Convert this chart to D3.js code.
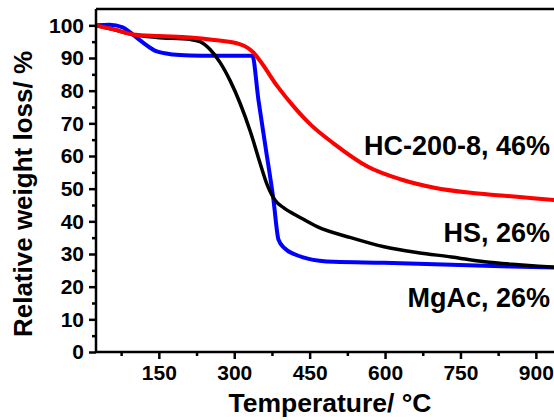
<!DOCTYPE html>
<html>
<head>
<meta charset="utf-8">
<script src="https://cdn.jsdelivr.net/npm/d3@7"></script>
<style>
  html, body { margin: 0; padding: 0; background: #ffffff; }
  svg { display: block; font-family: "Liberation Sans", Arial, sans-serif; }
</style>
</head>
<body>
<svg id="chart" width="554" height="420"></svg>
<script>
// TGA curves: temperature (°C) vs. relative weight (%)
const hcTemp = [25, 60, 98, 150, 212, 260, 312, 338, 352, 386, 418, 452, 498, 566, 632, 698, 766, 832, 900, 950];
const hcWeight = [100, 98.8, 97.2, 96.7, 96.3, 95.5, 94.2, 91.7, 89, 81.3, 75.2, 69.6, 63.8, 56.7, 52.8, 50.3, 48.8, 47.9, 47, 46.3];

const hsTemp = [25, 60, 98, 146, 212, 232, 252, 272, 292, 312, 332, 352, 366, 382, 398, 432, 466, 532, 598, 666, 732, 798, 866, 932, 950];
const hsWeight = [100, 98.7, 97.2, 96.3, 95.7, 95, 92.6, 88.6, 83, 76, 67.5, 57.5, 51, 46.3, 44.2, 41.1, 38.3, 35, 32.2, 30.4, 29.1, 27.6, 26.7, 26, 25.8];

const mgTemp = [25, 52, 78, 98, 118, 146, 178, 212, 260, 336, 348, 362, 378, 388, 400, 420, 446, 498, 598, 732, 850, 950];
const mgWeight = [100, 100.2, 99.4, 97.2, 94.8, 92, 91.1, 90.8, 90.7, 90.7, 77.3, 63, 46.6, 34.4, 31.8, 29.9, 28.6, 27.6, 27.3, 26.7, 26.2, 25.8];

const seriesNames = ["MgAc, 26%", "HS, 26%", "HC-200-8, 46%"];
const seriesColors = ["#0000ff", "#000000", "#ff0000"];

const xMajorTicks = [150, 300, 450, 600, 750, 900];
const xMinorTicks = [75, 225, 375, 525, 675, 825];
const yMajorTicks = [0, 10, 20, 30, 40, 50, 60, 70, 80, 90, 100];
const yMinorTicks = [5, 15, 25, 35, 45, 55, 65, 75, 85, 95];

const svg = d3.select("#chart");
const plotLeft = 96, plotRight = 561, plotTop = 9, plotBottom = 352;

const x = d3.scaleLinear().domain([25, 950]).range([plotLeft, plotRight]);
const y = d3.scaleLinear().domain([0, 105]).range([plotBottom, plotTop]);

// clip so the lines stay inside the frame
svg.append("defs").append("clipPath").attr("id", "plot")
  .append("rect").attr("x", plotLeft).attr("y", plotTop)
  .attr("width", plotRight - plotLeft).attr("height", plotBottom - plotTop);

const line = d3.line()
  .x(d => x(d[0]))
  .y(d => y(d[1]))
  .curve(d3.curveMonotoneX);

const series = [
  { temp: mgTemp, weight: mgWeight, width: 4 },
  { temp: hsTemp, weight: hsWeight, width: 3.5 },
  { temp: hcTemp, weight: hcWeight, width: 4 }
];

const plot = svg.append("g").attr("clip-path", "url(#plot)");
series.forEach((s, i) => {
  const pts = s.temp.map((t, j) => [t, s.weight[j]]);
  plot.append("path")
    .datum(pts)
    .attr("fill", "none")
    .attr("stroke", seriesColors[i])
    .attr("stroke-width", s.width)
    .attr("stroke-linejoin", "round")
    .attr("d", line);
});

// frame top line
svg.append("line")
  .attr("x1", plotLeft).attr("x2", plotRight + 2)
  .attr("y1", plotTop).attr("y2", plotTop)
  .attr("stroke", "#000").attr("stroke-width", 2.5);

// bottom axis
const xAxis = svg.append("g").attr("transform", `translate(0,${plotBottom})`)
  .call(d3.axisBottom(x).tickValues(xMajorTicks).tickSize(7).tickPadding(6).tickFormat(d3.format("d")));
svg.append("g").attr("transform", `translate(0,${plotBottom})`)
  .call(d3.axisBottom(x).tickValues(xMinorTicks).tickSize(4).tickFormat(""))
  .call(g => g.select(".domain").remove());

// left axis
const yAxis = svg.append("g").attr("transform", `translate(${plotLeft},0)`)
  .call(d3.axisLeft(y).tickValues(yMajorTicks).tickSize(7).tickPadding(5).tickFormat(d3.format("d")));
svg.append("g").attr("transform", `translate(${plotLeft},0)`)
  .call(d3.axisLeft(y).tickValues(yMinorTicks).tickSize(4).tickFormat(""))
  .call(g => g.select(".domain").remove());

svg.selectAll(".domain").attr("stroke", "#000").attr("stroke-width", 2.5);
svg.selectAll(".tick line").attr("stroke", "#000").attr("stroke-width", 2.5);
svg.selectAll(".tick text")
  .attr("fill", "#000")
  .style("font-size", "21px")
  .style("font-weight", "bold")
  .style("font-family", "'Liberation Sans', Arial, sans-serif");
xAxis.selectAll(".domain").attr("d", `M${plotLeft},0H${plotRight + 2}`);
yAxis.selectAll(".domain").attr("d", `M0,${plotBottom}V${plotTop}`);

// axis titles
svg.append("text")
  .attr("x", 330).attr("y", 412)
  .attr("text-anchor", "middle")
  .style("font-size", "26.5px").style("font-weight", "bold")
  .text("Temperature/ °C");

svg.append("text")
  .attr("transform", "translate(32,194) rotate(-90)")
  .attr("text-anchor", "middle")
  .style("font-size", "26px").style("font-weight", "bold")
  .text("Relative weight loss/ %");

// series labels
const labelPos = [[550, 307], [550, 242], [550, 155]];
seriesNames.forEach((name, i) => {
  svg.append("text")
    .attr("x", labelPos[i][0]).attr("y", labelPos[i][1])
    .attr("text-anchor", "end")
    .style("font-size", "27px").style("font-weight", "bold")
    .attr("fill", "#000")
    .text(name);
});
</script>
</body>
</html>
